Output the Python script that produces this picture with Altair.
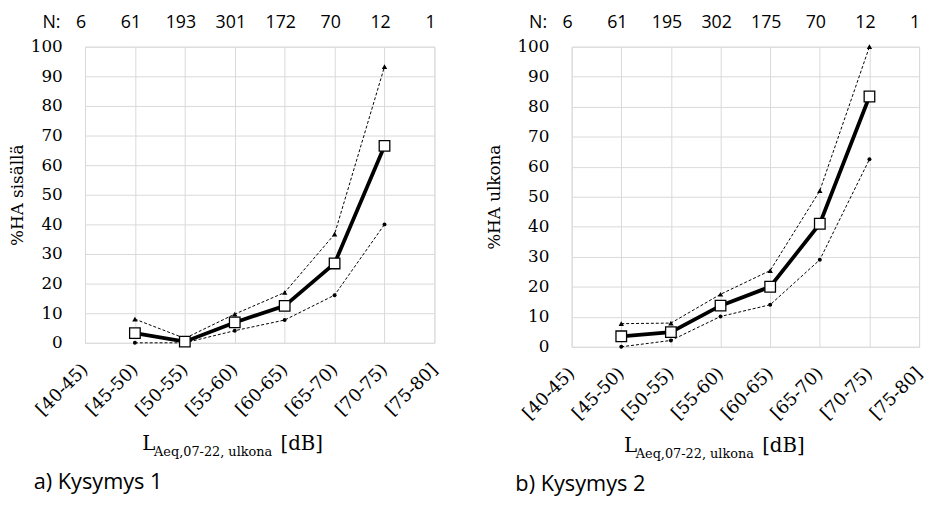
import altair as alt
import pandas as pd

cats = ["[40-45)", "[45-50)", "[50-55)", "[55-60)", "[60-65)", "[65-70)", "[70-75)", "[75-80]"]
data_cats = cats[1:7]

n_a = [6, 61, 193, 301, 172, 70, 12, 1]
mean_a = [3.3, 0.4, 6.9, 12.5, 26.8, 66.5]
upper_a = [8.0, 1.5, 9.7, 17.0, 36.7, 93.3]
lower_a = [0.0, 0.0, 4.1, 7.7, 16.1, 40.0]

n_b = [6, 61, 195, 302, 175, 70, 12, 1]
mean_b = [3.5, 4.9, 13.7, 20.0, 41.0, 83.4]
upper_b = [7.7, 7.9, 17.5, 25.4, 52.0, 100.0]
lower_b = [0.0, 2.1, 10.1, 14.0, 29.0, 62.5]

yticks = list(range(0, 101, 10))

SERIF = "DejaVu Serif"
SANS = "Open Sans"


def panel(n, mean, upper, lower, ytitle, caption, w, h, cap_dx, xt_dx, base_y, tpad):
    df = pd.DataFrame({"cat": data_cats, "mean": mean, "upper": upper, "lower": lower})
    ndf = pd.DataFrame({"cat": cats, "n": [str(v) for v in n]})

    xaxis = alt.Axis(title=None, labelAngle=315, labelAlign="right", labelBaseline="middle",
                     labelPadding=24, ticks=False, domain=False, grid=True,
                     gridColor="#d9d9d9", gridWidth=1, labelFont=SERIF, labelFontSize=18,
                     labelColor="black")
    yaxis = alt.Axis(title=ytitle, values=yticks, ticks=False, domain=False, grid=True,
                     gridColor="#d9d9d9", gridWidth=1, labelFont=SERIF, labelFontSize=17,
                     labelColor="black", labelPadding=23, titleFont=SERIF, titleFontSize=17,
                     titleFontWeight="normal", titleColor="black", titlePadding=tpad)
    xs = alt.Scale(type="point", domain=cats, padding=0)
    ys = alt.Scale(domain=[0, 100], nice=False)

    def X():
        return alt.X("cat:N", sort=cats, scale=xs, axis=xaxis)

    def Y(f):
        return alt.Y(f + ":Q", scale=ys, axis=yaxis)

    base = alt.Chart(df)
    up_line = base.mark_line(color="black", strokeWidth=1, strokeDash=[3, 2]).encode(x=X(), y=Y("upper"))
    up_pts = base.mark_point(shape="triangle-up", filled=True, color="black", size=30, opacity=1).encode(x=X(), y=Y("upper"))
    lo_line = base.mark_line(color="black", strokeWidth=1, strokeDash=[3, 2]).encode(x=X(), y=Y("lower"))
    lo_pts = base.mark_point(shape="circle", filled=True, color="black", size=16, opacity=1).encode(x=X(), y=Y("lower"))
    mean_line = base.mark_line(color="black", strokeWidth=3.8).encode(x=X(), y=Y("mean"))
    mean_pts = base.mark_point(shape="square", filled=True, fill="white", stroke="black",
                               strokeWidth=1.3, size=115, opacity=1).encode(x=X(), y=Y("mean"))

    n_txt = alt.Chart(ndf).mark_text(font=SANS, fontSize=18, color="black", baseline="middle", dx=-4).encode(
        x=alt.X("cat:N", sort=cats, scale=xs, axis=xaxis), y=alt.value(-24), text="n:N")
    n_lab = alt.Chart(pd.DataFrame({"t": ["N:"]})).mark_text(font=SANS, fontSize=18, color="black",
                                                            baseline="middle").encode(
        x=alt.value(-34), y=alt.value(-24), text="t:N")

    xt_L = alt.Chart(pd.DataFrame({"t": ["L"]})).mark_text(font=SERIF, fontSize=20, color="black",
                                                           align="left", baseline="alphabetic").encode(
        x=alt.value(xt_dx), y=alt.value(base_y), text="t:N")
    xt_sub = alt.Chart(pd.DataFrame({"t": ["Aeq,07-22, ulkona"]})).mark_text(
        font=SERIF, fontSize=13, color="black", align="left", baseline="alphabetic").encode(
        x=alt.value(xt_dx + 12), y=alt.value(base_y + 6), text="t:N")
    xt_db = alt.Chart(pd.DataFrame({"t": ["[dB]"]})).mark_text(font=SERIF, fontSize=20, color="black",
                                                               align="left", baseline="alphabetic").encode(
        x=alt.value(xt_dx + 140), y=alt.value(base_y), text="t:N")
    cap = alt.Chart(pd.DataFrame({"t": [caption]})).mark_text(font=SANS, fontSize=22, color="black",
                                                              align="left", baseline="middle").encode(
        x=alt.value(cap_dx), y=alt.value(base_y + 32), text="t:N")

    return alt.layer(up_line, lo_line, mean_line, up_pts, lo_pts, mean_pts, n_txt, n_lab,
                     xt_L, xt_sub, xt_db, cap).properties(width=w, height=h)


left = panel(n_a, mean_a, upper_a, lower_a, "%HA sisällä", "a) Kysymys 1", 354, 300, -52, 58, 409, 4)
right = panel(n_b, mean_b, upper_b, lower_b, "%HA ulkona", "b) Kysymys 2", 352, 304, -57, 53, 411, 14)

chart = alt.hconcat(left, right, spacing=44).properties(
    padding={"left": 0, "top": 2, "right": 0, "bottom": 0}).configure_view(
    stroke="black", strokeWidth=1).configure(background="white")

chart.save("out.html", embed_options={"renderer": "svg", "actions": False})
